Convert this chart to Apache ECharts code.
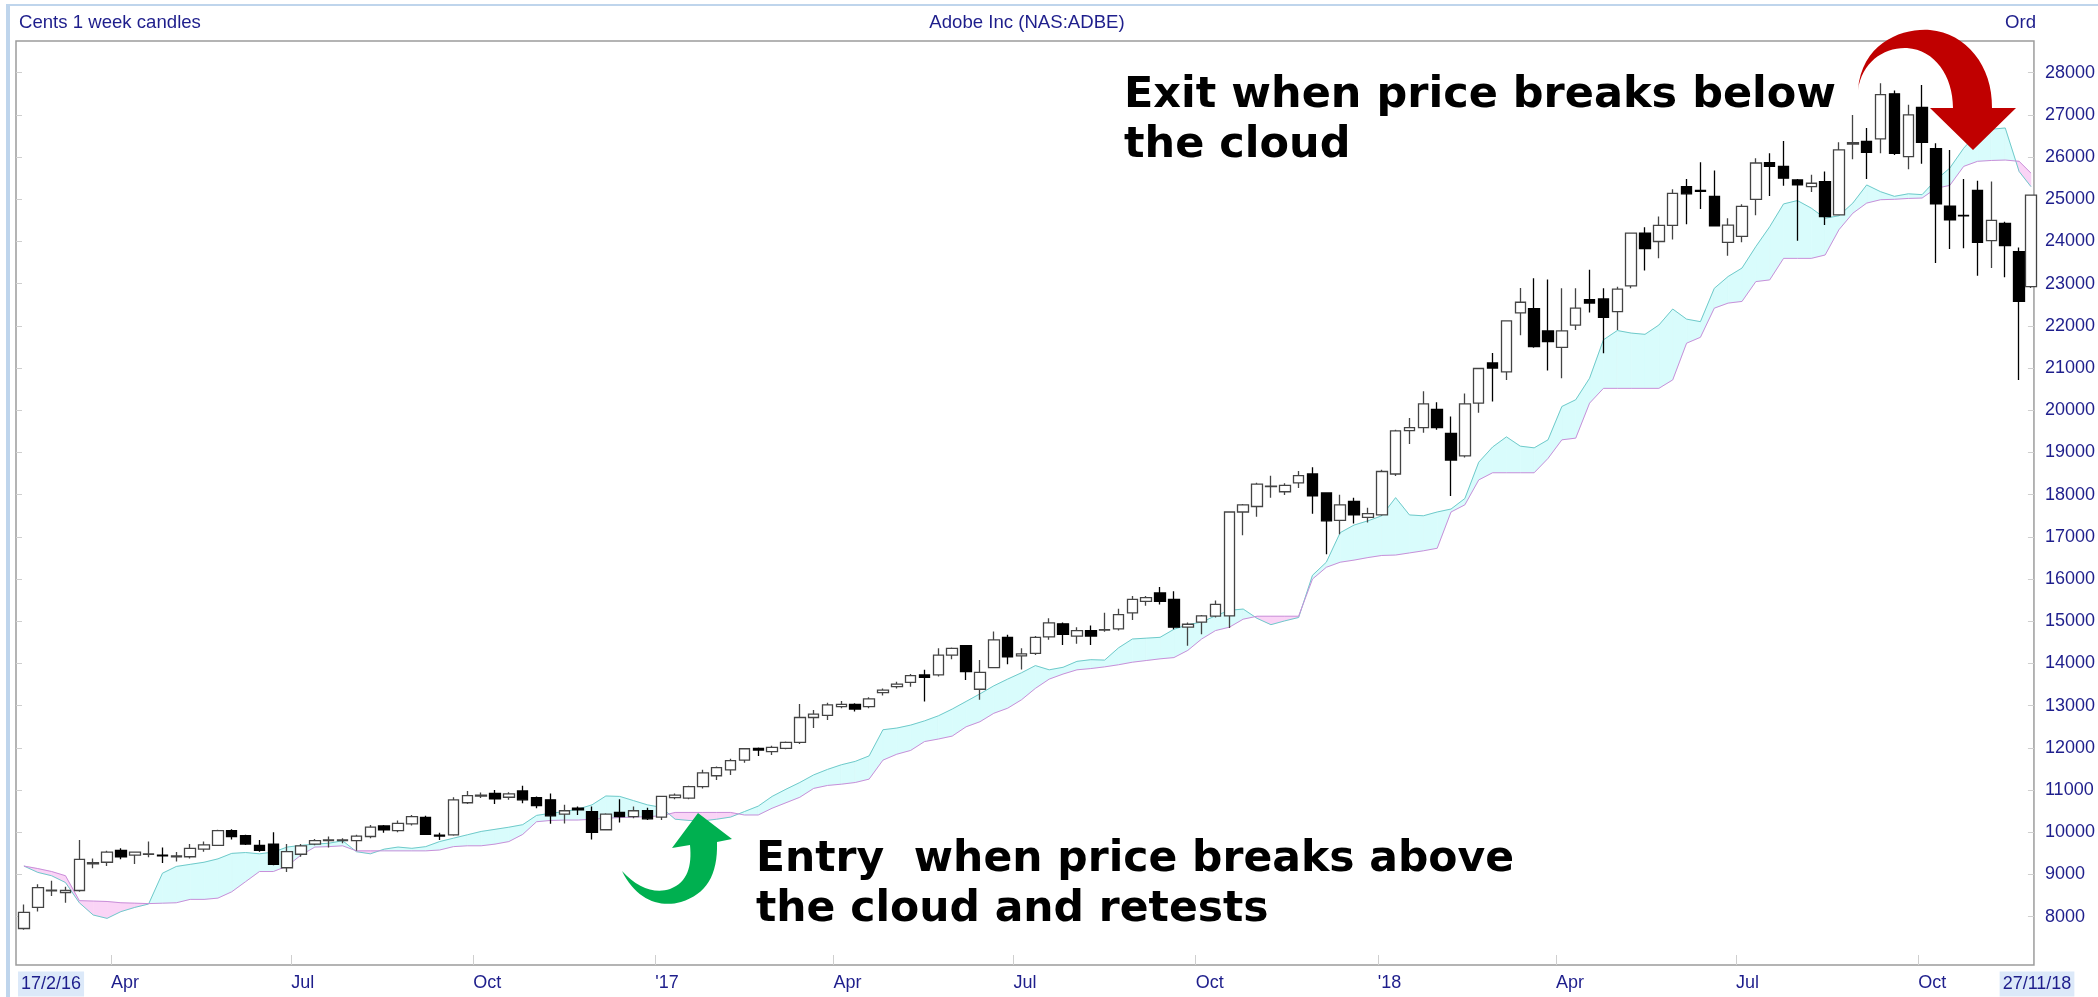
<!DOCTYPE html>
<html>
<head>
<meta charset="utf-8">
<script src="https://cdn.jsdelivr.net/npm/echarts@6/dist/echarts.min.js"></script>
<style>
html, body { margin: 0; padding: 0; background: #fff; }
#chart { width: 2098px; height: 997px; }
</style>
</head>
<body>
<div id="chart"></div>
<script>
// ADBE weekly candles with ichimoku cloud

var DAY = 86400000;
// one candle per week from 17/2/16, last one is the part week to 27/11/18
var dates = [];
for (var w = 0; w < 145; w++) dates.push(Date.UTC(2016, 1, 17) + w * 7 * DAY);
dates.push(Date.UTC(2018, 10, 27));

var opens = [
    7720, 8220, 8610, 8570, 8620, 9250, 9290, 9570, 9460, 9480,
    9460, 9420, 9420, 9600, 9690, 10040, 9920, 9690, 9720, 9160,
    9480, 9720, 9800, 9800, 9800, 9900, 10150, 10040, 10200, 10350,
    9930, 9940, 10700, 10860, 10920, 10830, 10980, 10820, 10770, 10430,
    10570, 10490, 10060, 10470, 10370, 10510, 10360, 10820, 10810, 11080,
    11340, 11480, 11710, 11990, 11910, 11990, 12130, 12720, 12770, 12980,
    13030, 12980, 13310, 13450, 13550, 13730, 13730, 14200, 14420, 13390,
    13900, 14620, 14180, 14240, 14630, 14940, 14650, 14780, 14790, 14820,
    15200, 15470, 15670, 15520, 14860, 14980, 15120, 15130, 17590, 17720,
    18190, 18070, 18280, 18490, 18040, 17390, 17840, 17460, 17520, 18490,
    19520, 19590, 20020, 19450, 18920, 20170, 21120, 20910, 22310, 22410,
    21880, 21490, 22020, 22620, 22640, 22340, 22950, 24200, 24000, 24380,
    25300, 25210, 25070, 23980, 24120, 25000, 25870, 25780, 25460, 25300,
    25420, 24630, 26310, 26370, 26430, 27500, 26010, 27180, 26200, 24840,
    24620, 25210, 24020, 24430, 23760, 22930
];
var closes = [
    8100, 8690, 8630, 8620, 9360, 9280, 9530, 9420, 9530, 9490,
    9440, 9440, 9620, 9700, 10040, 9900, 9720, 9570, 9240, 9540,
    9680, 9800, 9820, 9820, 9910, 10120, 10060, 10210, 10370, 9950,
    9910, 10770, 10870, 10880, 10790, 10910, 10770, 10630, 10390, 10510,
    10530, 10000, 10430, 10370, 10510, 10320, 10850, 10880, 11080, 11410,
    11530, 11700, 11980, 11950, 12010, 12130, 12720, 12800, 13020, 13030,
    12920, 13160, 13370, 13510, 13710, 13670, 14200, 14360, 13810, 13790,
    14560, 14160, 14230, 14620, 14960, 14690, 14780, 14650, 14800, 15160,
    15520, 15560, 15470, 14860, 14930, 15130, 15400, 17590, 17760, 18250,
    18200, 18220, 18450, 17970, 17380, 17760, 17520, 17550, 18550, 19510,
    19590, 20150, 19590, 18820, 20150, 20990, 21000, 22120, 22560, 21510,
    21630, 21880, 22420, 22540, 22200, 22870, 24200, 23830, 24380, 25140,
    25130, 25190, 24370, 24390, 24830, 25860, 25780, 25500, 25340, 25380,
    24590, 26170, 26340, 26110, 27480, 26090, 27000, 26350, 24890, 24510,
    24610, 23980, 24500, 23900, 22580, 25100
];
var lows = [
    7690, 8120, 8490, 8330, 8590, 9150, 9200, 9360, 9250, 9410,
    9270, 9310, 9380, 9540, 9680, 9830, 9700, 9540, 9220, 9060,
    9420, 9690, 9640, 9740, 9560, 9860, 9990, 10000, 10160, 9940,
    9820, 9920, 10670, 10810, 10670, 10770, 10690, 10570, 10200, 10210,
    10410, 9830, 10040, 10230, 10330, 10290, 10290, 10780, 10780, 11040,
    11240, 11360, 11650, 11810, 11830, 11970, 12090, 12470, 12660, 12940,
    12860, 12940, 13240, 13410, 13450, 13100, 13690, 14100, 13610, 13140,
    13890, 13980, 13860, 14200, 14560, 14440, 14470, 14440, 14750, 14780,
    15030, 15370, 15400, 14810, 14420, 14690, 15090, 14840, 17040, 17480,
    17930, 17990, 18160, 17550, 16590, 17060, 17320, 17340, 17500, 18440,
    19200, 19470, 19540, 17970, 18880, 19940, 20210, 20720, 21780, 21480,
    20940, 20760, 21900, 22320, 21350, 21900, 22890, 23310, 23600, 24050,
    24410, 24770, 24370, 23660, 23980, 24620, 25080, 25320, 24020, 25170,
    24390, 24620, 25950, 25480, 26090, 26050, 25710, 25840, 23490, 23820,
    23840, 23190, 23370, 23150, 20720, 22900
];
var highs = [
    8290, 8770, 8850, 8710, 9820, 9380, 9560, 9620, 9540, 9780,
    9640, 9530, 9720, 9780, 10060, 10070, 9940, 9820, 10000, 9720,
    9720, 9840, 9900, 9860, 9940, 10170, 10170, 10280, 10410, 10390,
    9990, 10830, 10980, 10940, 11000, 10950, 11100, 10850, 10920, 10650,
    10610, 10610, 10450, 10780, 10610, 10580, 10860, 10920, 11100, 11480,
    11560, 11740, 11990, 12010, 12050, 12150, 13040, 12900, 13070, 13110,
    13060, 13200, 13410, 13570, 13750, 13850, 14360, 14380, 14440, 14080,
    14760, 14680, 14360, 14650, 15070, 14970, 14860, 14900, 15200, 15300,
    15600, 15600, 15810, 15710, 14970, 15150, 15490, 17600, 17780, 18280,
    18450, 18270, 18560, 18650, 18050, 18000, 17930, 17690, 18590, 19540,
    19820, 20450, 20190, 19850, 20400, 21010, 21360, 22130, 22900, 23130,
    23100, 22890, 22890, 23330, 22890, 22930, 24210, 24340, 24590, 25240,
    25480, 25880, 25680, 24550, 24880, 25970, 26090, 26380, 25480, 25580,
    25660, 26350, 27000, 26690, 27750, 27580, 27240, 27710, 26330, 26170,
    25480, 25440, 25420, 24470, 23860, 25110
];

// leading spans of the cloud, read at each candle
var spanA = [
    9200, 9050, 8970, 8810, 8330, 8040, 7960, 8120, 8220, 8300,
    9030, 9190, 9240, 9290, 9370, 9500, 9520, 9490, 9530, 9650,
    9690, 9720, 9740, 9800, 9540, 9490, 9600, 9650, 9620, 9660,
    9780, 9860, 9940, 10020, 10070, 10120, 10180, 10400, 10450, 10490,
    10550, 10650, 10860, 10850, 10750, 10650, 10590, 10310, 10280, 10270,
    10310, 10360, 10490, 10620, 10850, 11020, 11180, 11360, 11490, 11600,
    11680, 11810, 12430, 12470, 12540, 12640, 12760, 12920, 13100, 13280,
    13470, 13630, 13780, 13950, 13850, 13910, 14050, 14090, 14080, 14370,
    14580, 14600, 14620, 14810, 14920, 14980, 15130, 15260, 15290, 15070,
    14920, 15010, 15090, 16090, 16400, 17100, 17280, 17380, 17500, 17930,
    17520, 17500, 17590, 17660, 17910, 18770, 19130, 19370, 19150, 19110,
    19300, 20090, 20250, 20760, 21670, 21890, 21830, 21800, 22020, 22400,
    22160, 22100, 22890, 23170, 23370, 23880, 24350, 24890, 24970, 24790,
    24550, 24610, 24910, 25340, 25180, 25070, 25130, 25110, 25460, 25740,
    26210, 26570, 26660, 26690, 25660, 25300
];
var spanB = [
    9200, 9140, 9070, 8970, 8380, 8370, 8360, 8330, 8320, 8310,
    8320, 8330, 8410, 8410, 8440, 8590, 8830, 9070, 9070, 9200,
    9460, 9650, 9660, 9680, 9560, 9560, 9560, 9560, 9560, 9560,
    9580, 9660, 9680, 9680, 9720, 9780, 9950, 10250, 10280, 10290,
    10290, 10310, 10330, 10350, 10360, 10370, 10390, 10470, 10470, 10470,
    10470, 10470, 10410, 10410, 10570, 10700, 10830, 11040, 11110, 11140,
    11180, 11260, 11710, 11850, 11940, 12150, 12210, 12280, 12500, 12620,
    12820, 12940, 13140, 13410, 13630, 13750, 13850, 13880, 13920, 13970,
    14030, 14070, 14110, 14140, 14310, 14580, 14780, 14860, 15050, 15120,
    15120, 15120, 15120, 16000, 16280, 16400, 16450, 16510, 16560, 16570,
    16620, 16670, 16730, 17590, 17760, 18350, 18520, 18520, 18520, 18520,
    18860, 19300, 19340, 20170, 20520, 20520, 20520, 20520, 20520, 20720,
    21590, 21730, 22420, 22540, 22580, 23050, 23090, 23600, 23600, 23600,
    23680, 24280, 24670, 24910, 24990, 25000, 25020, 25030, 25260, 25330,
    25780, 25900, 25920, 25930, 25900, 25620
];

var yTicks = [8000, 9000, 10000, 11000, 12000, 13000, 14000, 15000, 16000, 17000,
    18000, 19000, 20000, 21000, 22000, 23000, 24000, 25000, 26000, 27000, 28000];
var xTicks = [
    Date.UTC(2016, 3, 1), Date.UTC(2016, 6, 1), Date.UTC(2016, 9, 1), Date.UTC(2017, 0, 1),
    Date.UTC(2017, 3, 1), Date.UTC(2017, 6, 1), Date.UTC(2017, 9, 1), Date.UTC(2018, 0, 1),
    Date.UTC(2018, 3, 1), Date.UTC(2018, 6, 1), Date.UTC(2018, 9, 1)
];
var monthNames = ['Jan', 'Feb', 'Mar', 'Apr', 'May', 'Jun', 'Jul', 'Aug', 'Sep', 'Oct', 'Nov', 'Dec'];

var NAVY = '#1e1e8c';
var CLOUD_UP = '#d9fcfc', CLOUD_DOWN = '#fad4f6';
var AXIS_FONT = 'Liberation Sans, Arial, sans-serif';
var NOTE_FONT = 'DejaVu Sans, Verdana, sans-serif';

// curved arrows drawn over the chart (screen pixels)
var RED_ARROW = 'M1858,90 C1862,42 1903,28 1930,30 C1966,33 1993,66 1992,108 L2016,108 L1973,150 L1930,108 L1953,108 C1953,76 1935,50 1907,48 C1884,47 1862,62 1858,90 Z';
var GREEN_ARROW = 'M622,871 C636,900 660,908 681,902 C706,894 718,876 717,842 L732,839 L698,813 L672,848 L690,845 C692,866 688,882 670,889 C655,894 637,888 622,871 Z';

var candleData = [];
var cloudData = [];
var lineA = [], lineB = [];
for (var i = 0; i < dates.length; i++) {
    candleData.push([dates[i], opens[i], closes[i], lows[i], highs[i]]);
    lineA.push([dates[i], spanA[i]]);
    lineB.push([dates[i], spanB[i]]);
    if (i < dates.length - 1) {
        cloudData.push([dates[i], spanA[i], spanB[i], dates[i + 1], spanA[i + 1], spanB[i + 1]]);
    }
}

// fill between the two spans, cyan when A is on top, pink when B is
function cloudSegment(params, api) {
    var t0 = api.value(0), a0 = api.value(1), b0 = api.value(2);
    var t1 = api.value(3), a1 = api.value(4), b1 = api.value(5);
    var d0 = a0 - b0, d1 = a1 - b1;
    function poly(pts, up) {
        var c = up ? CLOUD_UP : CLOUD_DOWN;
        return {
            type: 'polygon',
            shape: { points: pts.map(function (p) { return api.coord(p); }) },
            style: { fill: c, stroke: c, lineWidth: 0.6 },
            silent: true
        };
    }
    var kids = [];
    if (d0 * d1 < 0) {
        var f = d0 / (d0 - d1);
        var tm = t0 + f * (t1 - t0), vm = a0 + f * (a1 - a0);
        kids.push(poly([[t0, a0], [tm, vm], [t0, b0]], d0 > 0));
        kids.push(poly([[tm, vm], [t1, a1], [t1, b1]], d1 > 0));
    } else {
        kids.push(poly([[t0, a0], [t1, a1], [t1, b1], [t0, b0]], d0 + d1 >= 0));
    }
    return { type: 'group', children: kids };
}

function arrows() {
    return {
        type: 'group',
        children: [
            { type: 'path', shape: { pathData: RED_ARROW }, style: { fill: '#c00000' } },
            { type: 'path', shape: { pathData: GREEN_ARROW }, style: { fill: '#00b050' } }
        ]
    };
}

var chart = echarts.init(document.getElementById('chart'));
var option = {
    animation: false,
    backgroundColor: '#ffffff',
    grid: {
        left: 16, top: 41, right: 62, bottom: 32,
        show: true, borderColor: '#9c9c9c', borderWidth: 1.5, backgroundColor: '#ffffff'
    },
    xAxis: {
        type: 'value',
        min: Date.UTC(2016, 1, 13),
        max: Date.UTC(2018, 10, 28, 12),
        axisLine: { show: false },
        splitLine: { show: false },
        axisTick: {
            customValues: xTicks, inside: true, length: 10,
            lineStyle: { color: '#cfcfcf', width: 1 }
        },
        axisLabel: {
            customValues: xTicks,
            align: 'left',
            margin: 9,
            color: NAVY,
            fontSize: 18,
            fontFamily: AXIS_FONT,
            formatter: function (v) {
                var d = new Date(v);
                if (d.getUTCMonth() === 0) return "'" + String(d.getUTCFullYear()).slice(2);
                return monthNames[d.getUTCMonth()];
            }
        }
    },
    yAxis: [{
        type: 'value',
        position: 'right',
        min: 6855, max: 28751,
        axisLine: { show: false },
        splitLine: { show: false },
        axisTick: { customValues: yTicks, inside: true, length: 6, lineStyle: { color: '#cfcfcf' } },
        axisLabel: {
            customValues: yTicks, margin: 11, color: NAVY, fontSize: 18, fontFamily: AXIS_FONT,
            formatter: function (v) { return String(v); }
        }
    }, {
        type: 'value',
        position: 'left',
        min: 6855, max: 28751,
        axisLine: { show: false },
        splitLine: { show: false },
        axisTick: { customValues: yTicks, inside: true, length: 6, lineStyle: { color: '#cfcfcf' } },
        axisLabel: { show: false }
    }],
    series: [{
        type: 'custom',
        name: 'cloud',
        renderItem: cloudSegment,
        data: cloudData,
        encode: { x: [0, 3], y: [1, 2, 4, 5] },
        silent: true,
        z: 1
    }, {
        type: 'line',
        name: 'span A',
        data: lineA,
        showSymbol: false,
        lineStyle: { color: '#6fcaca', width: 1 },
        silent: true,
        z: 2
    }, {
        type: 'line',
        name: 'span B',
        data: lineB,
        showSymbol: false,
        lineStyle: { color: '#c98fd9', width: 1 },
        silent: true,
        z: 2
    }, {
        type: 'candlestick',
        name: 'ADBE',
        data: candleData,
        barWidth: 11,
        itemStyle: {
            color: '#ffffff',
            color0: '#000000',
            borderColor: '#444444',
            borderColor0: '#000000',
            borderWidth: 1.3
        },
        z: 5
    }, {
        type: 'custom',
        name: 'arrows',
        coordinateSystem: 'none',
        data: [0],
        renderItem: arrows,
        silent: true,
        z: 20
    }],
    graphic: [
        // outer frame
        { type: 'rect', shape: { x: 6, y: 4, width: 4, height: 993 }, style: { fill: '#bfd5ec' }, z: 50 },
        { type: 'rect', shape: { x: 6, y: 4, width: 2092, height: 2 }, style: { fill: '#bfd5ec' }, z: 50 },
        // header
        { type: 'text', x: 19, y: 23, style: { text: 'Cents 1 week candles', fill: NAVY, font: '18.6px ' + AXIS_FONT, verticalAlign: 'middle' }, z: 50 },
        { type: 'text', x: 1027, y: 23, style: { text: 'Adobe Inc (NAS:ADBE)', fill: NAVY, font: '18.6px ' + AXIS_FONT, align: 'center', verticalAlign: 'middle' }, z: 50 },
        { type: 'text', x: 2036, y: 23, style: { text: 'Ord', fill: NAVY, font: '18.6px ' + AXIS_FONT, align: 'right', verticalAlign: 'middle' }, z: 50 },
        // first and last date
        { type: 'text', x: 18, y: 984, style: { text: '17/2/16', fill: NAVY, font: '18px ' + AXIS_FONT, verticalAlign: 'middle', backgroundColor: '#dce9f9', padding: [4, 3, 3, 3] }, z: 50 },
        { type: 'text', x: 2037, y: 984, style: { text: '27/11/18', fill: NAVY, font: '18px ' + AXIS_FONT, align: 'center', verticalAlign: 'middle', backgroundColor: '#dce9f9', padding: [4, 3, 3, 3] }, z: 50 },
        // notes
        { type: 'text', x: 1124, y: 71, style: { text: 'Exit when price breaks below\nthe cloud', fill: '#000', font: 'bold 43px ' + NOTE_FONT, lineHeight: 50 }, z: 60 },
        { type: 'text', x: 756, y: 835, style: { text: 'Entry  when price breaks above\nthe cloud and retests', fill: '#000', font: 'bold 42.5px ' + NOTE_FONT, lineHeight: 50 }, z: 60 }
    ]
};
chart.setOption(option);
</script>
</body>
</html>
